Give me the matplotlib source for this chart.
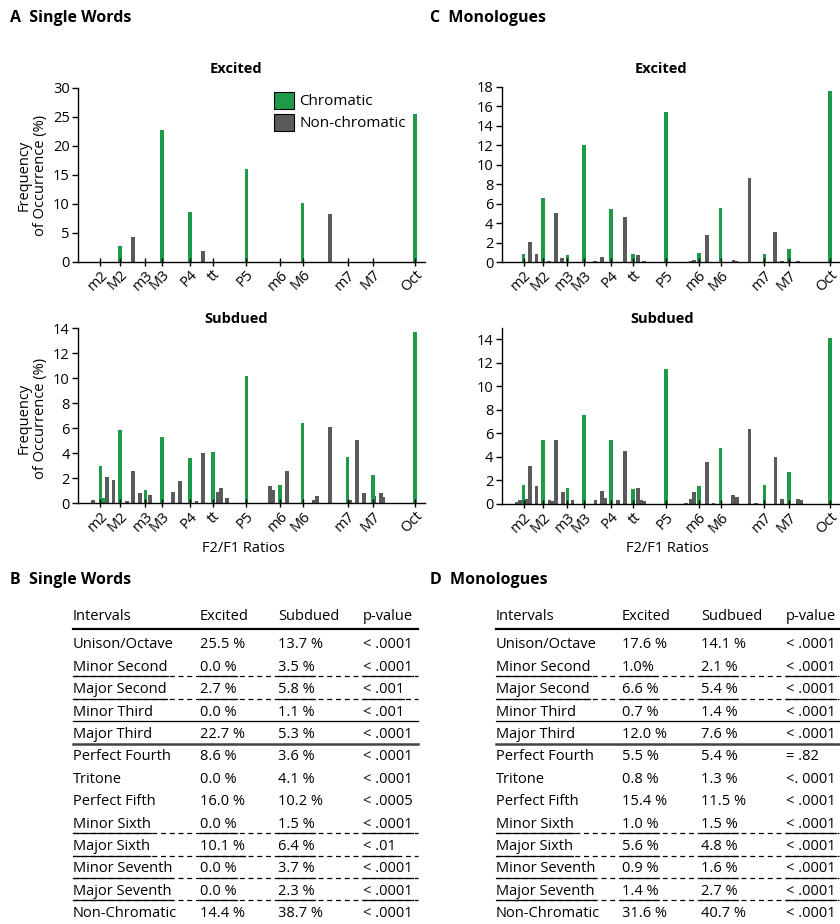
import matplotlib
matplotlib.use("Agg")
import matplotlib.pyplot as plt
from matplotlib.patches import Patch
from matplotlib.lines import Line2D

plt.rcParams['font.family'] = ['Open Sans', 'DejaVu Sans']

W, H = 840, 924
GREEN = '#1f9a48'
GRAY = '#5a5a5a'

# interval tick positions (F2/F1 ratio) and labels
tick_x = [1.0667, 1.125, 1.2, 1.25, 1.3333, 1.4, 1.5, 1.6, 1.6667, 1.8, 1.875, 2.0]
tick_lab = ['m2', 'M2', 'm3', 'M3', 'P4', 'tt', 'P5', 'm6', 'M6', 'm7', 'M7', 'Oct']

# A: single words, excited
sw_exc_gx = [1.125, 1.25, 1.3333, 1.5, 1.6667, 2.0]
sw_exc_gh = [2.7, 22.7, 8.6, 16.0, 10.1, 25.5]
sw_exc_nx = [1.164, 1.372, 1.748]
sw_exc_nh = [4.3, 1.8, 8.3]

# A: single words, subdued
sw_sub_gx = [1.0667, 1.078, 1.125, 1.2, 1.25, 1.3333, 1.4, 1.5, 1.6, 1.6667, 1.8, 1.875, 2.0]
sw_sub_gh = [3.0, 0.4, 5.9, 1.1, 5.3, 3.6, 4.1, 10.2, 1.5, 6.4, 3.7, 2.3, 13.7]
sw_sub_nx = [1.045, 1.087, 1.105, 1.145, 1.164, 1.184, 1.214, 1.283, 1.303, 1.352, 1.372,
             1.415, 1.424, 1.443, 1.55, 1.57, 1.58, 1.621, 1.699, 1.709, 1.748, 1.808,
             1.829, 1.849, 1.878, 1.899, 1.907]
sw_sub_nh = [0.3, 2.1, 1.9, 0.2, 2.6, 0.8, 0.7, 0.9, 1.8, 0.2, 4.0,
             0.9, 1.2, 0.4, 0.05, 1.4, 1.1, 2.6, 0.3, 0.6, 6.1, 0.3,
             5.1, 0.8, 0.55, 0.8, 0.5]

# C: monologues, excited
mo_exc_gx = [1.0667, 1.125, 1.2, 1.25, 1.3333, 1.4, 1.5, 1.6, 1.6667, 1.8, 1.875, 2.0]
mo_exc_gh = [0.9, 6.6, 0.7, 12.0, 5.5, 0.8, 15.4, 1.0, 5.6, 0.9, 1.4, 17.6]
mo_exc_nx = [1.087, 1.106, 1.144, 1.166, 1.184, 1.284, 1.305, 1.375, 1.415, 1.433,
             1.577, 1.586, 1.625, 1.706, 1.714, 1.754, 1.833, 1.854, 1.902]
mo_exc_nh = [2.1, 0.8, 0.1, 5.1, 0.4, 0.1, 0.5, 4.6, 0.7, 0.1,
             0.15, 0.2, 2.8, 0.2, 0.15, 8.6, 3.1, 0.15, 0.1]

# C: monologues, subdued
mo_sub_gx = [1.0667, 1.125, 1.2, 1.25, 1.3333, 1.4, 1.5, 1.6, 1.6667, 1.8, 1.875, 2.0]
mo_sub_gh = [1.6, 5.4, 1.4, 7.6, 5.4, 1.3, 11.5, 1.5, 4.8, 1.6, 2.7, 14.1]
mo_sub_nx = [1.045, 1.055, 1.076, 1.087, 1.106, 1.146, 1.154, 1.166, 1.186, 1.216,
             1.285, 1.305, 1.315, 1.355, 1.375, 1.415, 1.425, 1.435, 1.562, 1.575,
             1.585, 1.625, 1.645, 1.705, 1.716, 1.754, 1.774, 1.834, 1.854, 1.903, 1.913]
mo_sub_nh = [0.15, 0.3, 0.4, 3.2, 1.5, 0.35, 0.25, 5.4, 1.0, 0.3,
             0.3, 1.1, 0.5, 0.3, 4.5, 1.35, 0.3, 0.25, 0.1, 0.4,
             1.0, 3.6, 0.05, 0.75, 0.6, 6.4, 0.05, 4.0, 0.4, 0.45, 0.3]

# B / D tables
intervals = ['Unison/Octave', 'Minor Second', 'Major Second', 'Minor Third', 'Major Third',
             'Perfect Fourth', 'Tritone', 'Perfect Fifth', 'Minor Sixth', 'Major Sixth',
             'Minor Seventh', 'Major Seventh', 'Non-Chromatic']
sw_excited = ['25.5 %', '0.0 %', '2.7 %', '0.0 %', '22.7 %', '8.6 %', '0.0 %', '16.0 %',
              '0.0 %', '10.1 %', '0.0 %', '0.0 %', '14.4 %']
sw_subdued = ['13.7 %', '3.5 %', '5.8 %', '1.1 %', '5.3 %', '3.6 %', '4.1 %', '10.2 %',
              '1.5 %', '6.4 %', '3.7 %', '2.3 %', '38.7 %']
sw_p = ['< .0001', '< .0001', '< .001', '< .001', '< .0001', '< .0001', '< .0001', '< .0005',
        '< .0001', '< .01', '< .0001', '< .0001', '< .0001']
mo_excited = ['17.6 %', '1.0%', '6.6 %', '0.7 %', '12.0 %', '5.5 %', '0.8 %', '15.4 %',
              '1.0 %', '5.6 %', '0.9 %', '1.4 %', '31.6 %']
mo_subdued = ['14.1 %', '2.1 %', '5.4 %', '1.4 %', '7.6 %', '5.4 %', '1.3 %', '11.5 %',
              '1.5 %', '4.8 %', '1.6 %', '2.7 %', '40.7 %']
mo_p = ['< .0001', '< .0001', '< .0001', '< .0001', '< .0001', '= .82', '<. 0001', '< .0001',
        '< .0001', '< .0001', '< .0001', '< .0001', '< .0001']
# row underline style: d = dashed, s = thin solid, S = heavier solid
row_rule = {1: 'd', 2: 'd', 3: 's', 4: 'S', 8: 'd', 9: 'd', 10: 'd', 11: 'd'}

fig = plt.figure(figsize=(W / 100, H / 100), dpi=100)


def rect(x0, y0, x1, y1):
    return [x0 / W, 1 - y1 / H, (x1 - x0) / W, (y1 - y0) / H]


def bar_panel(r, gx, gh, nx, nh, ylim, yticks, xmax):
    ax = fig.add_axes(r)
    ax.bar(nx, nh, width=0.011, color=GRAY, linewidth=0)
    ax.bar(gx, gh, width=0.011, color=GREEN, linewidth=0)
    ax.set_xlim(1.0, xmax)
    ax.set_ylim(*ylim)
    ax.set_yticks(yticks)
    ax.set_xticks(tick_x)
    ax.set_xticklabels(tick_lab, rotation=45, ha='right', rotation_mode='anchor')
    for s in ['top', 'right']:
        ax.spines[s].set_visible(False)
    ax.spines['left'].set_linewidth(1.0)
    ax.spines['bottom'].set_linewidth(1.0)
    ax.tick_params(axis='y', direction='out', length=4, width=1, labelsize=10.5, pad=2)
    ax.tick_params(axis='x', direction='inout', length=6, width=1, labelsize=10.5, pad=1)
    ax.patch.set_alpha(0)
    return ax


ax1 = bar_panel(rect(78, 87.7, 425, 261.7), sw_exc_gx, sw_exc_gh, sw_exc_nx, sw_exc_nh,
                (0, 30), range(0, 31, 5), 2.03)
ax2 = bar_panel(rect(78, 328.3, 425, 503.3), sw_sub_gx, sw_sub_gh, sw_sub_nx, sw_sub_nh,
                (0, 14), range(0, 15, 2), 2.03)
ax3 = bar_panel(rect(501.7, 86.7, 840, 262.3), mo_exc_gx, mo_exc_gh, mo_exc_nx, mo_exc_nh,
                (0, 18), range(0, 19, 2), 2.03)
ax4 = bar_panel(rect(501.7, 327.6, 840, 504), mo_sub_gx, mo_sub_gh, mo_sub_nx, mo_sub_nh,
                (0, 15), range(0, 15, 2), 2.03)


def ftext(x, y, s, **kw):
    return fig.text(x / W, 1 - y / H, s, **kw)


# panel letters
ftext(10, 18, 'A  Single Words', fontsize=11.5, fontweight='bold', va='center')
ftext(430, 18, 'C  Monologues', fontsize=11.5, fontweight='bold', va='center')
ftext(10, 580, 'B  Single Words', fontsize=11.5, fontweight='bold', va='center')
ftext(430, 580, 'D  Monologues', fontsize=11.5, fontweight='bold', va='center')

# subplot titles
for x, y, t in [(236, 69, 'Excited'), (661, 69, 'Excited'),
                (236, 319, 'Subdued'), (662, 319, 'Subdued')]:
    ftext(x, y, t, fontsize=10.5, fontweight='bold', ha='center', va='center')

ftext(32, 175, 'Frequency\nof Occurrence (%)', fontsize=10.5, rotation=90,
      ha='center', va='center', multialignment='center', linespacing=1.1)
ftext(32, 418, 'Frequency\nof Occurrence (%)', fontsize=10.5, rotation=90,
      ha='center', va='center', multialignment='center', linespacing=1.1)
ftext(243, 548, 'F2/F1 Ratios', fontsize=10.5, ha='center', va='center')
ftext(667, 548, 'F2/F1 Ratios', fontsize=10.5, ha='center', va='center')

# legend
handles = [Patch(facecolor=GREEN, edgecolor='black', linewidth=0.8),
           Patch(facecolor=GRAY, edgecolor='black', linewidth=0.8)]
ax1.legend(handles, ['Chromatic', 'Non-chromatic'], loc='upper left',
           bbox_to_anchor=(274 / W, 1 - 92 / H), bbox_transform=fig.transFigure,
           frameon=False, borderpad=0, borderaxespad=0, handlelength=1.3,
           handleheight=1.3, handletextpad=0.35, labelspacing=0.3, fontsize=11)


# tables
def table(cols, data, x_end):
    texts = []
    ftext(cols[0], 616, 'Intervals', fontsize=10.5, va='center')
    ftext(cols[1], 616, 'Excited', fontsize=10.5, va='center')
    ftext(cols[2], 616, data[3], fontsize=10.5, va='center')
    ftext(cols[3], 616, 'p-value', fontsize=10.5, va='center')
    fig.add_artist(Line2D([cols[0] / W, x_end / W], [1 - 629 / H] * 2, color='black',
                          linewidth=1.6, transform=fig.transFigure))
    for i in range(len(intervals)):
        y = 645 + 22.4 * i
        row = []
        for c, col in zip(cols, [intervals, data[0], data[1], data[2]]):
            row.append(ftext(c, y, col[i], fontsize=10.5, va='center'))
        texts.append(row)
        st = row_rule.get(i)
        yl = 1 - (y + 9) / H
        if st == 'd':
            fig.add_artist(Line2D([cols[0] / W, x_end / W], [yl] * 2, color='black',
                                  linewidth=0.9, linestyle=(0, (4, 3)),
                                  transform=fig.transFigure))
        elif st == 's':
            fig.add_artist(Line2D([cols[0] / W, x_end / W], [yl] * 2, color='black',
                                  linewidth=0.9, transform=fig.transFigure))
        elif st == 'S':
            fig.add_artist(Line2D([cols[0] / W, x_end / W], [yl] * 2, color='#444444',
                                  linewidth=1.8, transform=fig.transFigure))
    return texts


sw_texts = table([73, 200, 278, 363], [sw_excited, sw_subdued, sw_p, 'Subdued'], 418)
mo_texts = table([496, 622, 701, 786], [mo_excited, mo_subdued, mo_p, 'Sudbued'], 839)

# solid underline beneath the words of dashed rows
fig.canvas.draw()
r = fig.canvas.get_renderer()
for texts in [sw_texts, mo_texts]:
    for i, row in enumerate(texts):
        if row_rule.get(i) != 'd':
            continue
        y = 645 + 22.4 * i + 9
        for t in row:
            bb = t.get_window_extent(renderer=r)
            fig.add_artist(Line2D([bb.x0 / W, bb.x1 / W], [1 - y / H] * 2, color='black',
                                  linewidth=0.9, transform=fig.transFigure))

fig.savefig('out.png', dpi=100)
